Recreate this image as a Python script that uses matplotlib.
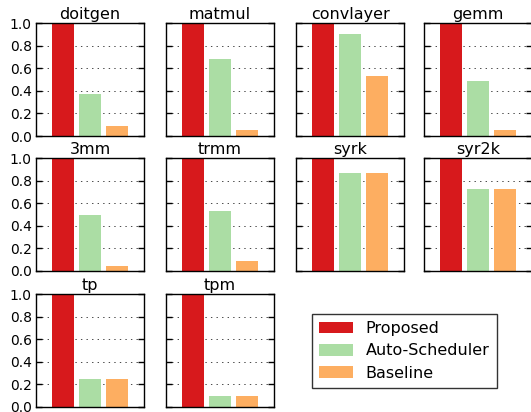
import matplotlib
matplotlib.use("Agg")
import matplotlib.pyplot as plt
from matplotlib.patches import Patch

plt.rcParams["lines.scale_dashes"] = False

benchmarks = ["doitgen", "matmul", "convlayer", "gemm",
              "3mm", "trmm", "syrk", "syr2k",
              "tp", "tpm"]
proposed = [1.0, 1.0, 1.0, 1.0, 1.0, 1.0, 1.0, 1.0, 1.0, 1.0]
auto_scheduler = [0.37, 0.68, 0.90, 0.49, 0.50, 0.53, 0.87, 0.73, 0.25, 0.10]
baseline = [0.09, 0.055, 0.53, 0.05, 0.04, 0.085, 0.87, 0.73, 0.25, 0.10]
series_names = ["Proposed", "Auto-Scheduler", "Baseline"]
colors = ["#d7191c", "#abdda4", "#fdae61"]
yticks = [0.0, 0.2, 0.4, 0.6, 0.8, 1.0]

W, H = 531, 412
fig = plt.figure(figsize=(W / 100, H / 100), dpi=100)
fig.patch.set_facecolor("white")

col_left = [36, 166, 296, 424]
row_top = [23, 158, 294]
ax_w, ax_h = 108, 113

for i, name in enumerate(benchmarks):
    r, c = divmod(i, 4)
    left = col_left[c] / W
    bottom = 1 - (row_top[r] + ax_h) / H
    ax = fig.add_axes([left, bottom, ax_w / W, ax_h / H])
    vals = [proposed[i], auto_scheduler[i], baseline[i]]
    ax.bar([1, 2, 3], vals, width=0.8, color=colors, linewidth=0, zorder=2)
    ax.set_xlim(0, 4)
    ax.set_ylim(0, 1.0)
    ax.set_xticks([])
    ax.set_yticks(yticks)
    if c == 0:
        ax.set_yticklabels([f"{t:.1f}" for t in yticks], fontsize=10)
    else:
        ax.set_yticklabels([])
    ax.tick_params(axis="y", direction="in", length=4, width=1,
                   left=True, right=True, pad=3)
    ax.yaxis.grid(True, linestyle=(0, (1, 3)), color="black",
                  linewidth=0.5, zorder=0)
    ax.set_axisbelow(True)
    for sp in ax.spines.values():
        sp.set_linewidth(1.0)
        sp.set_color("black")
    ax.set_title(name, fontsize=11.5, pad=3)

handles = [Patch(facecolor=col, edgecolor="none", label=lab)
           for col, lab in zip(colors, series_names)]
leg = fig.legend(handles=handles, loc="upper left",
                 bbox_to_anchor=(312 / W, 1 - 314 / H),
                 fontsize=11.5, frameon=True, fancybox=False,
                 edgecolor="black", handlelength=2.1, handleheight=0.75,
                 handletextpad=0.8, borderpad=0.45, labelspacing=0.45,
                 borderaxespad=0)
leg.get_frame().set_linewidth(1.0)

fig.savefig("out.png", dpi=100, facecolor="white")
